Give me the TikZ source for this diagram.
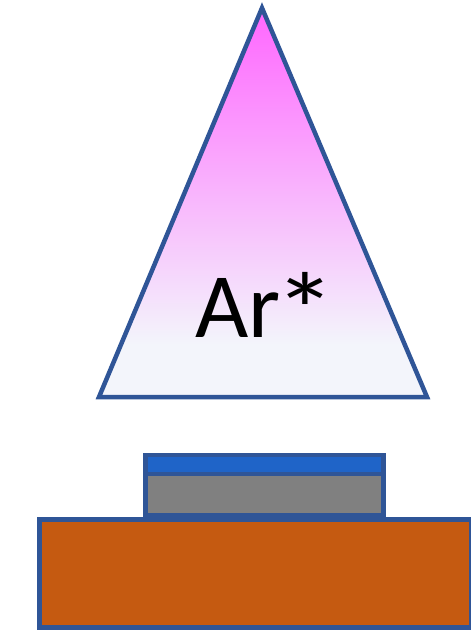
\documentclass[tikz,border=0pt]{standalone}
\usepackage{fontspec}
\setmainfont{Carlito}
\definecolor{edge}{HTML}{2F5597}
\definecolor{topmag}{HTML}{FF66FF}
\definecolor{botpale}{HTML}{F3F5FB}
\definecolor{layerblue}{HTML}{1F64C8}
\definecolor{layergrey}{HTML}{808080}
\definecolor{substrate}{HTML}{C55A11}
\begin{document}
\begin{tikzpicture}[x=1pt,y=-1pt,
  outline/.style={draw=edge,line width=4.5pt}]
\useasboundingbox (0,0) rectangle (471,630);
% plasma cone
\coordinate (apex) at (262,8);
\coordinate (bl) at (99,397);
\coordinate (br) at (427,397);
\fill[botpale] (apex) -- (br) -- (bl) -- cycle;
\begin{scope}
\clip (apex) -- (br) -- (bl) -- cycle;
\shade[top color=topmag,bottom color=botpale] (0,8) rectangle (471,345);
\end{scope}
\draw[outline,line join=miter] (apex) -- (br) -- (bl) -- cycle;
\node[font=\fontsize{92}{100}\selectfont,anchor=base west,inner sep=0pt] (label) at (195,337) {Ar\kern-6pt\raisebox{-10pt}{\scalebox{1.35}[1.15]{*}}};
% substrate
\node[outline,fill=substrate,minimum width=432pt,minimum height=108pt,inner sep=0pt,anchor=north west] (sub) at (37,517) {};
% grey film
\node[outline,fill=layergrey,minimum width=238pt,minimum height=41pt,inner sep=0pt,anchor=south west] (film) at (143,517) {};
% blue top layer
\node[outline,fill=layerblue,minimum width=238pt,minimum height=19pt,inner sep=0pt,anchor=south west] (top) at (143,476) {};
\end{tikzpicture}
\end{document}
